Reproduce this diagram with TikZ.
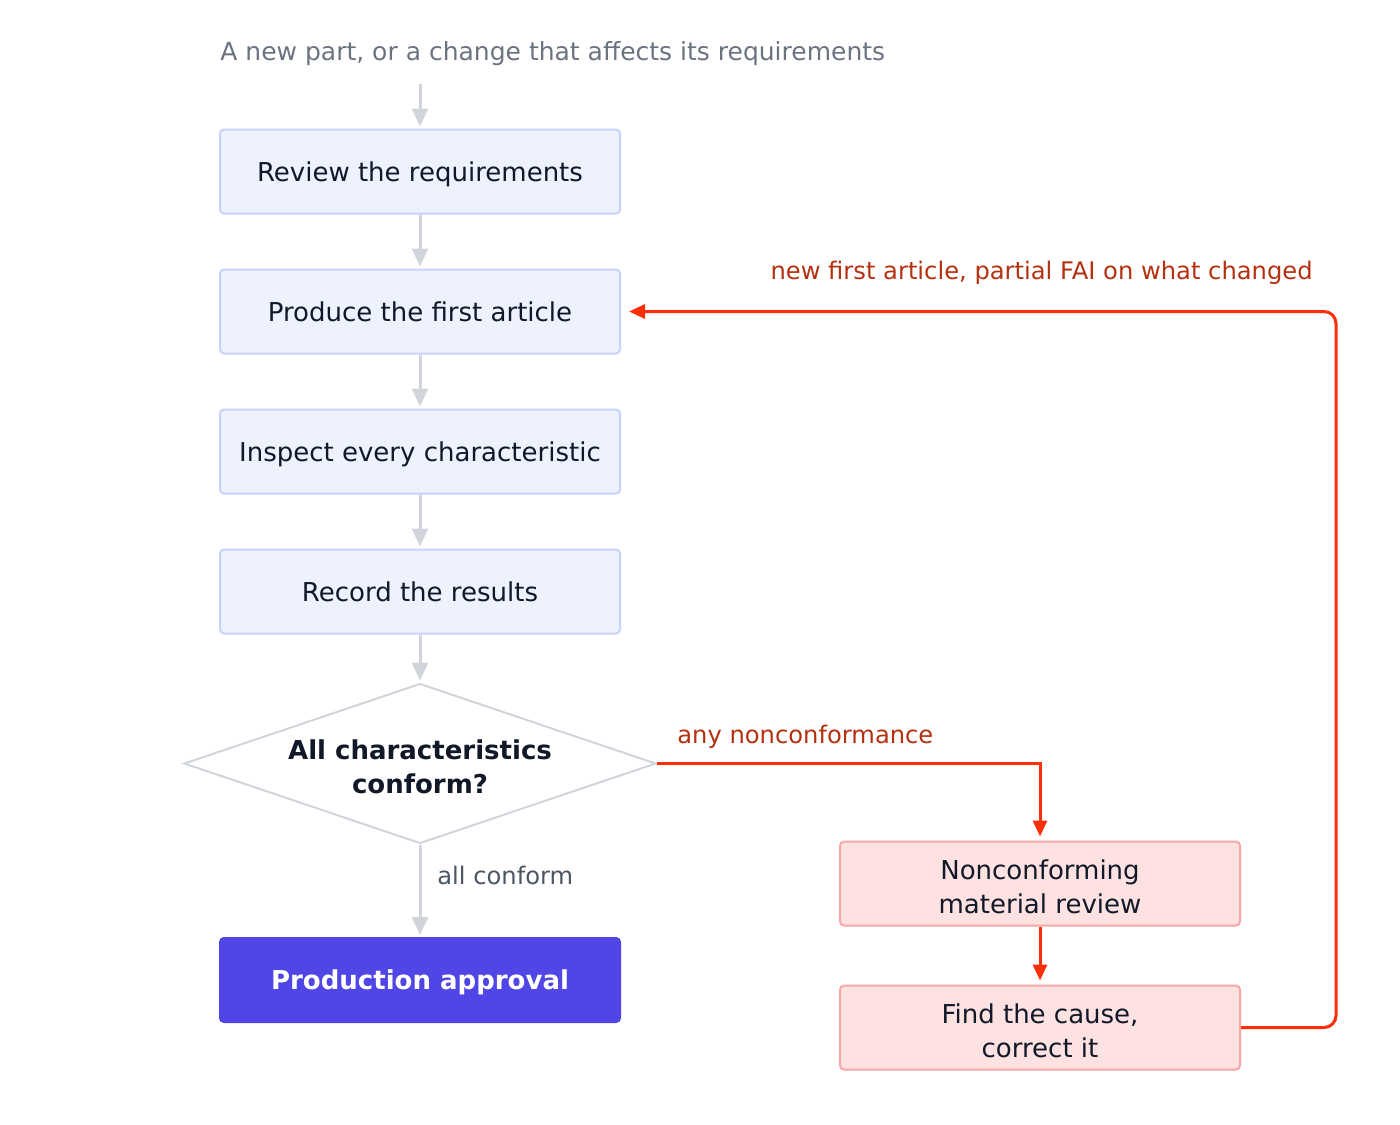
\documentclass[tikz,border=0pt]{standalone}
\usepackage{fontspec}
\setmainfont{DejaVu Sans}
\usetikzlibrary{shapes.geometric,arrows.meta}
\definecolor{boxfill}{HTML}{EEF2FF}
\definecolor{boxline}{HTML}{C7D2FE}
\definecolor{ink}{HTML}{111827}
\definecolor{greyline}{HTML}{D1D5DB}
\definecolor{titlegrey}{HTML}{6B7280}
\definecolor{labelgrey}{HTML}{4B5563}
\definecolor{approve}{HTML}{4F46E5}
\definecolor{ncfill}{HTML}{FEE2E2}
\definecolor{ncline}{HTML}{FCA5A5}
\definecolor{redline}{HTML}{FF2E0A}
\definecolor{redtext}{HTML}{B4300F}
\newcommand{\mytopgap}{\rule{0pt}{12.9pt}}
\begin{document}
\begin{tikzpicture}[x=0.5pt,y=-0.5pt,
  boxtext/.style={font=\fontsize{13}{17}\selectfont},
  proc/.style={boxtext, draw=boxline, fill=boxfill, line width=1pt, rounded corners=2pt,
    minimum width=200pt, minimum height=42pt, inner sep=0pt, text=ink, align=center, text depth=0pt},
  ncbox/.style={boxtext, draw=ncline, fill=ncfill, line width=1pt, rounded corners=2pt,
    minimum width=200pt, minimum height=42pt, inner sep=0pt, text=ink, align=center},
  final/.style={proc, draw=approve, fill=approve, text=white, font=\bfseries\fontsize{13}{17}\selectfont},
  decision/.style={font=\bfseries\fontsize{13}{17}\selectfont, shape=diamond, draw=greyline, fill=white,
    line width=1pt, aspect=2.95, inner sep=0pt, minimum width=236pt, minimum height=80pt, text=ink,
    align=center},
  greyarrow/.style={draw=greyline, line width=1.5pt, -{Triangle[length=9pt,width=8pt]}, shorten >=1pt},
  redarrow/.style={draw=redline, line width=1.5pt, -{Triangle[length=8pt,width=7pt]}, shorten >=2pt},
  lbl/.style={font=\fontsize{12.1}{14}\selectfont, inner sep=0pt},
]
\useasboundingbox (0,0) rectangle (1400,1124);

\node[lbl, font=\fontsize{12.5}{15}\selectfont, text=titlegrey, anchor=west] (title) at (220,53.5) {A new part, or a change that affects its requirements};
\coordinate (start) at (420,84);

\node[proc] (review) at (420,171.5) {Review the requirements};
\node[proc] (produce) at (420,311.5) {Produce the first article};
\node[proc] (inspect) at (420,451.5) {Inspect every characteristic};
\node[proc] (record) at (420,591.5) {Record the results};
\node[decision] (dec) at (420,763.5) {\mytopgap All characteristics\\conform?};
\node[final] (approval) at (420,980) {Production approval};
\node[ncbox] (nmr) at (1040,883.5) {\mytopgap Nonconforming\\material review};
\node[ncbox] (fix) at (1040,1027.5) {\mytopgap Find the cause,\\correct it};
\coordinate (loopx) at (1336,0);

\draw[greyarrow] (start) -- (review.north);
\draw[greyarrow] (review) -- (produce);
\draw[greyarrow] (produce) -- (inspect);
\draw[greyarrow] (inspect) -- (record);
\draw[greyarrow] (record) -- (dec.north);
\draw[greyarrow] (dec.south) -- (approval.north);
\node[lbl, text=labelgrey, anchor=west] (allc) at (437,875) {all conform};

\draw[redarrow] (dec.east) -| (nmr.north);
\node[lbl, text=redtext, anchor=west] (anyn) at (677,737) {any nonconformance};
\draw[redarrow] (nmr) -- (fix);
\draw[redarrow, rounded corners=6pt] (fix.east) -| (loopx |- produce.east) -- ([xshift=2pt]produce.east);
\node[lbl, text=redtext, anchor=east] (newfa) at (1313,273) {new first article, partial FAI on what changed};
\end{tikzpicture}
\end{document}
